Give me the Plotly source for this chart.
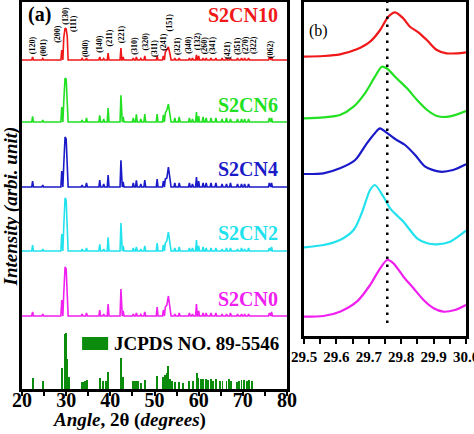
import plotly.graph_objects as go

# ---------------- data (left panel, XRD patterns) ----------------
peak_pos = [22.4, 24.7, 29.0, 29.45, 29.75, 30.0, 30.25, 33.6, 34.6, 37.6, 38.5, 39.5,
            42.4, 42.9, 45.2, 45.9, 46.9, 47.8, 50.6, 52.0, 52.45, 52.8, 53.15, 53.55,
            54.6, 55.6, 57.9, 58.6, 59.5, 60.0, 61.0, 61.7, 62.8, 63.9, 65.3, 66.3,
            67.2, 68.8, 69.7, 70.4, 71.3, 76.0, 76.5]

s2cn0 = [4, 2, 16, 22, 49, 47, 20, 2, 3, 6, 2, 12, 27, 5, 2, 3, 1.5, 4, 9, 6, 9, 11, 20, 6,
         2, 3, 3, 2, 12, 5, 3, 3, 3, 3, 2, 2, 3, 2, 2, 2, 2, 3, 4]
s2cn2 = [6, 2, 17, 24, 53, 51, 22, 2, 3, 6.7, 2, 13.7, 28, 5, 3, 4, 2, 5, 8, 6, 8, 10, 19, 6,
         3, 4, 3, 3, 11, 5, 4, 3, 3, 3, 2, 3, 3, 2, 3, 2, 3, 3, 4]
s2cn4 = [6, 2, 16, 22, 50, 48, 21, 2, 4, 7, 3, 12, 26.7, 5, 4, 6.7, 3, 7, 8, 6, 8, 9, 20, 7,
         4, 4, 4, 3, 10, 6, 4, 4, 4, 4, 3, 3, 4, 3, 3, 3, 3, 4, 4]
s2cn6 = [5.7, 2, 15, 20, 44, 43, 19, 2, 4, 6.7, 3, 14, 26.7, 5, 4, 7.7, 3, 8, 8, 7, 9, 12, 18, 7,
         4, 5, 4, 3, 10, 6, 5, 4, 4, 4, 3, 4, 3, 3, 3, 3, 3, 4, 4]
s2cn10 = [3, 1.5, 10, 22, 32, 31, 23, 1.5, 2, 3, 1.5, 7, 12, 3, 2, 3, 1.5, 4, 4, 4, 8, 11, 13, 5,
          2, 2, 2, 2, 5, 4, 2, 2, 2, 2, 2, 2, 2, 2, 2, 2, 2, 3, 3]

series_names = ["S2CN10", "S2CN6", "S2CN4", "S2CN2", "S2CN0"]
series_vals = [s2cn10, s2cn6, s2cn4, s2cn2, s2cn0]
series_offsets = [329, 267, 202, 138, 73]
series_colors = ["#f01818", "#22e022", "#1a1ac8", "#22e2ee", "#f020f0"]

jcpds_pos = [22.42, 24.68, 28.98, 29.73, 29.96, 30.19, 30.56, 33.58, 33.88, 34.26, 34.64,
             37.66, 38.41, 38.94, 39.54, 42.41, 42.94, 45.1, 45.5, 45.9, 46.3, 46.9, 47.8,
             50.64, 52.0, 52.37, 52.75, 53.12, 53.5, 54.03, 54.64, 55.6, 56.5, 57.87, 58.62,
             59.53, 59.9, 60.45, 61.05, 61.66, 62.18, 62.8, 63.3, 63.9, 64.83, 65.4, 66.3,
             66.9, 67.3, 68.75, 69.2, 69.7, 70.26, 70.87, 71.4, 72.0]
jcpds_int = [10.7, 8, 21, 54.7, 56, 30, 12, 7, 7, 8, 9.5, 10.7, 8, 8, 17.3, 30.7, 12, 7.7,
             7.7, 7.7, 7.7, 6, 9, 13, 12.3, 13.7, 16.3, 23, 9.7, 8, 7, 7, 6, 8, 8, 16.3, 11,
             9.7, 9.7, 10, 8.7, 9.7, 8, 9.7, 8, 8, 8, 9.7, 8, 7, 8, 8.7, 8.7, 8, 8.7, 8]

hkl_labels = ["(120)", "(001)", "(200)", "(130)", "(111)", "(040)", "(140)", "(211)", "(221)",
              "(310)", "(320)", "(311)", "(241)", "(151)", "(321)", "(340)", "(132)", "(260)",
              "(341)", "(421)", "(351)", "(270)", "(322)", "(062)"]
hkl_x = [22.42, 24.95, 28.0, 29.9, 31.8, 34.5, 37.5, 39.7, 42.7, 45.4, 47.85, 50.1, 52.0,
         53.5, 55.2, 57.65, 59.8, 61.4, 63.3, 66.5, 68.75, 70.7, 72.5, 76.3]
hkl_y = [343.5, 341.5, 355.5, 373, 365, 341, 345.5, 350.5, 355, 343.5, 347.5, 341, 347.5,
         366.5, 343.5, 344.5, 347.5, 343.5, 344, 339.5, 343.5, 344, 344, 339.5]

# ---------------- data (right panel, zoom of main peak) ----------------
zoom_x = {
    "S2CN10": [29.5, 29.56, 29.611, 29.663, 29.704, 29.735, 29.76, 29.781, 29.806, 29.827,
               29.853, 29.879, 29.91, 29.94, 29.971, 30.0],
    "S2CN6": [29.5, 29.56, 29.611, 29.653, 29.688, 29.719, 29.74, 29.755, 29.786, 29.818,
              29.849, 29.88, 29.91, 29.946, 30.0],
    "S2CN4": [29.5, 29.56, 29.611, 29.658, 29.694, 29.72, 29.734, 29.755, 29.786, 29.812,
              29.843, 29.874, 29.92, 29.96, 30.0],
    "S2CN2": [29.5, 29.56, 29.611, 29.653, 29.678, 29.704, 29.719, 29.745, 29.766, 29.791,
              29.807, 29.849, 29.88, 29.91, 29.951, 30.0],
    "S2CN0": [29.5, 29.56, 29.611, 29.663, 29.704, 29.735, 29.757, 29.776, 29.807, 29.838,
              29.869, 29.9, 29.93, 29.966, 30.0],
}
zoom_y = {
    "S2CN10": [279.3, 280, 281.7, 286.7, 294.3, 306, 319.3, 323.7, 317.7, 309.3, 303.7, 296,
               286, 282.7, 282.7, 283.7],
    "S2CN6": [217.7, 218.7, 221, 229.3, 242.7, 259.3, 269.3, 267.7, 257.7, 247.7, 236, 226,
              220, 219.3, 225],
    "S2CN4": [162, 162.7, 167.7, 176, 192.7, 203.3, 207.7, 203.3, 196, 191, 181, 169.3, 164.3,
              166, 171.7],
    "S2CN2": [88.7, 91, 96, 106, 122.7, 146, 151, 139.3, 127.7, 119.3, 114.3, 97.7, 92.7,
              91.7, 94.3, 105.3],
    "S2CN0": [19.3, 20, 24.3, 34.3, 51, 67.7, 76, 72.7, 59.3, 47.7, 36, 27.7, 24.3, 26, 31],
}
ref_line_x = 29.757

# ---------------- figure ----------------
SERIF = "Liberation Serif"
W, H = 474, 434


def pattern_xy(pos, hts, base, w=0.2):
    xs, ys = [20.0], [base]
    for p, h in zip(pos, hts):
        if xs[-1] > p - w and len(xs) > 1:
            xs.pop(); ys.pop()
        elif xs[-1] < p - w:
            xs.append(p - w); ys.append(base)
        xs.append(p); ys.append(base + h)
        xs.append(p + w); ys.append(base)
    xs.append(80.0); ys.append(base)
    return xs, ys


fig = go.Figure()

for name, vals, off, col in zip(series_names, series_vals, series_offsets, series_colors):
    assert len(vals) == len(peak_pos)
    xs, ys = pattern_xy(peak_pos, vals, off)
    fig.add_trace(go.Scatter(x=xs, y=ys, mode="lines", line=dict(color=col, width=1.6),
                             name=name, showlegend=False, xaxis="x", yaxis="y"))

fig.add_trace(go.Bar(x=jcpds_pos, y=jcpds_int, width=0.2, marker=dict(color="#0c8c0c", line_width=0),
                     name="JCPDS NO. 89-5546", showlegend=False, xaxis="x", yaxis="y"))

for name, col in zip(series_names, series_colors):
    fig.add_trace(go.Scatter(x=zoom_x[name], y=zoom_y[name], mode="lines",
                             line=dict(color=col, width=2.2, shape="spline", smoothing=0.8),
                             showlegend=False, xaxis="x2", yaxis="y2"))

# layout / axes
fig.update_layout(
    width=W, height=H, margin=dict(l=0, r=0, t=0, b=0, autoexpand=False),
    paper_bgcolor="white", plot_bgcolor="white", bargap=0,
    xaxis=dict(domain=[22 / W, 287 / W], range=[20, 80], tickvals=[20, 30, 40, 50, 60, 70, 80],
               ticks="outside", ticklen=4, tickwidth=2, tickcolor="black", automargin=False,
               ticklabelstandoff=-13,
               minor=dict(dtick=5, tick0=20, ticks="outside", ticklen=4, tickwidth=2, tickcolor="black"),
               tickfont=dict(family=SERIF, size=20, color="black", weight="bold"),
               showline=True, linewidth=2.5, linecolor="black", mirror=True,
               showgrid=False, zeroline=False),
    yaxis=dict(domain=[(H - 389) / H, (H - 2) / H], range=[0, 387], showticklabels=False,
               ticks="", showline=True, linewidth=2.5, linecolor="black", mirror=True,
               showgrid=False, zeroline=False, automargin=False),
    xaxis2=dict(domain=[304 / W, 466 / W], range=[29.5, 30.0], anchor="y2", automargin=False,
                tickvals=[29.5, 29.6, 29.7, 29.8, 29.9, 30.0],
                ticktext=["29.5", "29.6", "29.7", "29.8", "29.9", "30.0"], tickangle=0,
                ticklabeloverflow="allow",
                ticks="outside", ticklen=5, tickwidth=2, tickcolor="black",
                minor=dict(dtick=0.05, tick0=29.5, ticks="outside", ticklen=5, tickwidth=2, tickcolor="black"),
                tickfont=dict(family=SERIF, size=15, color="black", weight="bold"),
                showline=True, linewidth=2.5, linecolor="black", mirror=True,
                showgrid=False, zeroline=False),
    yaxis2=dict(domain=[(H - 336) / H, (H - 2) / H], range=[0, 334], anchor="x2", automargin=False,
                showticklabels=False, ticks="", showline=True, linewidth=2.5, linecolor="black",
                mirror=True, showgrid=False, zeroline=False),
)

# dotted reference line
fig.add_shape(type="line", xref="x2", yref="y2", x0=ref_line_x, x1=ref_line_x, y0=13, y1=334,
              line=dict(color="black", width=2.5, dash="2.5px,5.5px"))

# JCPDS legend box
fig.add_shape(type="rect", xref="x", yref="y", x0=33.6, x1=39.5, y0=39, y1=52,
              fillcolor="#0c8c0c", line_width=0)
fig.add_annotation(x=40.3, y=46, xref="x", yref="y", text="<b>JCPDS NO. 89-5546</b>",
                   showarrow=False, xanchor="left", yanchor="middle",
                   font=dict(family=SERIF, size=19, color="black"))

# series labels
label_y = [373.5, 284, 220, 156, 90]
for name, col, ly in zip(series_names, series_colors, label_y):
    fig.add_annotation(x=78.5, y=ly, xref="x", yref="y", text="<b>%s</b>" % name,
                       showarrow=False, xanchor="right", yanchor="middle",
                       font=dict(family=SERIF, size=20, color=col))

# hkl labels
for t, hx, hy in zip(hkl_labels, hkl_x, hkl_y):
    fig.add_annotation(x=hx, y=hy, xref="x", yref="y", text="<b>%s</b>" % t, textangle=-90,
                       showarrow=False, xanchor="center", yanchor="middle",
                       font=dict(family=SERIF, size=8, color="black"))

# panel letters
fig.add_annotation(x=20.9, y=374.5, xref="x", yref="y", text="<b>(a)</b>", showarrow=False,
                   xanchor="left", yanchor="middle", font=dict(family=SERIF, size=20, color="black"))
fig.add_annotation(x=29.51, y=305, xref="x2", yref="y2", text="(b)", showarrow=False,
                   xanchor="left", yanchor="middle",
                   font=dict(family=SERIF, size=16, color="black"))

# axis titles
fig.add_annotation(x=129 / W, y=(H - 420) / H, xref="paper", yref="paper",
                   text="<b><i>Angle</i>, 2θ (<i>degrees</i>)</b>", showarrow=False,
                   xanchor="center", yanchor="middle", font=dict(family=SERIF, size=19, color="black"))
fig.add_annotation(x=10.5 / W, y=(H - 207) / H, xref="paper", yref="paper",
                   text="<b><i>Intensity (arbi. unit)</i></b>", textangle=-90, showarrow=False,
                   xanchor="center", yanchor="middle", font=dict(family=SERIF, size=19, color="black"))

fig.write_html("out.html", config={"displayModeBar": False},
               post_script="document.body.style.margin='0';document.body.style.overflow='hidden';")
